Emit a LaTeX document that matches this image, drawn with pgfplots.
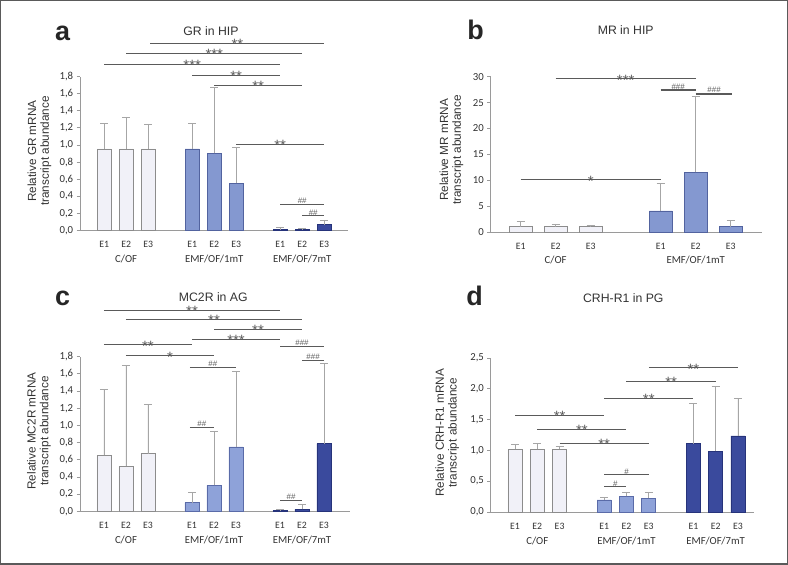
\documentclass[border=0pt]{standalone}
\usepackage{pgfplots}
\pgfplotsset{compat=1.18}
\usepackage{fontspec}
\setmainfont{Liberation Sans}
\newfontfamily\carlito{Carlito}
\definecolor{cof}{HTML}{F1F1F8}
\definecolor{cofedge}{HTML}{8C8C8C}
\definecolor{emfa}{HTML}{8498D0}
\definecolor{emfaedge}{HTML}{52639F}
\definecolor{emfc}{HTML}{8EA2D9}
\definecolor{emfcedge}{HTML}{5A6BA8}
\definecolor{emfb}{HTML}{3A4A9D}
\definecolor{emfbedge}{HTML}{26337A}
\definecolor{errc}{HTML}{A6A6A6}
\definecolor{axisc}{HTML}{9A9A9A}
\definecolor{sigc}{HTML}{5A5A5A}
\definecolor{txtc}{HTML}{333333}
\definecolor{framec}{HTML}{5A5A5A}

\newcommand\sigS[4]{\draw[sigl] (axis cs:#1,#3) -- (axis cs:#2,#3) node[midway,starlab]{#4};}
\newcommand\sigH[4]{\draw[sigl] (axis cs:#1,#3) -- (axis cs:#2,#3) node[midway,hashlab]{#4};}
\newcommand\sigHT[4]{\draw[sigl,line width=1.5bp] (axis cs:#1,#3) -- (axis cs:#2,#3) node[midway,hashlab]{#4};}

\tikzset{
  sigl/.style={draw=sigc, line width=1bp},
  starlab/.style={anchor=base, yshift=-6.3bp, inner sep=0pt, text=sigc, font=\fontsize{15}{15}\selectfont},
  hashlab/.style={anchor=base, yshift=0.9bp, inner sep=0pt, text=sigc, font=\fontsize{8}{8}\selectfont},
}

\pgfplotsset{
  panel/.style={
    scale only axis, anchor=south west, clip=false,
    axis x line=bottom, axis y line=left,
    axis line style={axisc, line width=0.8bp, -},
    xtick={0,1,2,4,5,6,8,9,10},
    xticklabels={E1,E2,E3,E1,E2,E3,E1,E2,E3},
    x tick style={draw=none},
    xticklabel style={font=\carlito\fontsize{9.8}{10}\selectfont, text=txtc, anchor=center, yshift=-11bp},
    y tick style={axisc, line width=0.8bp},
    tick align=outside, major tick length=3.3bp,
    yticklabel style={font=\carlito\fontsize{10.8}{11}\selectfont, text=txtc,
      /pgf/number format/.cd, fixed, fixed zerofill, precision=1, use comma},
    /pgf/number format/assume math mode=true,
    ymin=0,
    ylabel style={align=center, font=\fontsize{11.8}{12.8}\selectfont, text=txtc, anchor=center},
  },
  errstyle/.style={error bars/.cd, y dir=plus, y explicit,
    error bar style={errc, line width=0.9bp},
    error mark options={errc, line width=0.9bp, mark size=4bp, rotate=90}},
  cofbar/.style={ybar, bar width=#1, fill=cof, draw=cofedge, line width=0.7bp, errstyle},
  emfabar/.style={ybar, bar width=#1, fill=emfa, draw=emfaedge, line width=0.7bp, errstyle},
  emfcbar/.style={ybar, bar width=#1, fill=emfc, draw=emfcedge, line width=0.7bp, errstyle},
  emfbbar/.style={ybar, bar width=#1, fill=emfb, draw=emfbedge, line width=0.7bp, errstyle},
}

\newcommand\grp[2]{\node[font=\carlito\fontsize{10.8}{11}\selectfont, text=txtc, anchor=center] at ([yshift=-28.5bp]axis cs:#1,0) {#2};}

\begin{document}
\begin{tikzpicture}[x=1bp,y=1bp]
\useasboundingbox (0,0) rectangle (788,565);
\draw[framec, line width=1.5bp] (0.75,0.75) rectangle (787.25,564.25);

% panel letters and titles
\node[anchor=base, font=\fontsize{27}{27}\selectfont\bfseries, text=black!85] at (62.5,524.3) {a};
\node[anchor=base, font=\fontsize{27}{27}\selectfont\bfseries, text=black!85] at (475.7,525) {b};
\node[anchor=base, font=\fontsize{27}{27}\selectfont\bfseries, text=black!85] at (62.5,259) {c};
\node[anchor=base, font=\fontsize{27}{27}\selectfont\bfseries, text=black!85] at (474.5,259) {d};
\node[anchor=base, font=\fontsize{12.3}{13}\selectfont, text=txtc] at (211,529) {GR in HIP};
\node[anchor=base, font=\fontsize{12.3}{13}\selectfont, text=txtc] at (625.7,530.3) {MR in HIP};
\node[anchor=base, font=\fontsize{12.3}{13}\selectfont, text=txtc] at (213.3,263) {MC2R in AG};
\node[anchor=base, font=\fontsize{12.3}{13}\selectfont, text=txtc] at (623.3,262.3) {CRH-R1 in PG};

% ---------------- panel a ----------------
\begin{axis}[panel, at={(80bp,334.7bp)}, width=268bp, height=153.6bp,
  xmin=-1.1, xmax=11.08, ymax=1.8,
  ytick={0,0.2,0.4,0.6,0.8,1,1.2,1.4,1.6,1.8},
  ylabel={Relative GR mRNA\\transcript abundance},
  ylabel style={at={(axis description cs:-0.151,0.516)}}]
\addplot[cofbar=0.64] coordinates {(0,0.953) +- (0,0.300) (1,0.953) +- (0,0.375) (2,0.953) +- (0,0.293)};
\addplot[emfabar=0.64] coordinates {(4,0.953) +- (0,0.300) (5,0.902) +- (0,0.767) (6,0.554) +- (0,0.414)};
\addplot[emfbbar=0.64] coordinates {(8,0.008) +- (0,0.031) (9,0.012) +- (0,0.008) (10,0.066) +- (0,0.055)};
\sigS{2.1}{10}{2.187}{**}
\sigS{1}{9}{2.073}{***}
\sigS{0}{8}{1.941}{***}
\sigS{4}{8}{1.816}{**}
\sigS{5}{9}{1.702}{**}
\sigS{6}{10}{1.007}{**}
\sigH{8}{10}{0.301}{\#\#}
\sigH{9}{10}{0.168}{\#\#}
\grp{1}{C/OF}
\grp{5}{EMF/OF/1mT}
\grp{9}{EMF/OF/7mT}
\end{axis}

% ---------------- panel b ----------------
\begin{axis}[panel, at={(490.7bp,333bp)}, width=271bp, height=155.3bp,
  xmin=-0.857, xmax=6.886, ymax=30,
  xtick={0,1,2,4,5,6}, xticklabels={E1,E2,E3,E1,E2,E3},
  ytick={0,5,10,15,20,25,30},
  yticklabel style={/pgf/number format/precision=0},
  ylabel={Relative MR mRNA\\transcript abundance},
  ylabel style={at={(axis description cs:-0.1447,0.528)}}]
\addplot[cofbar=0.65] coordinates {(0,1.0) +- (0,1.0) (1,1.0) +- (0,0.55) (2,1.0) +- (0,0.35)};
\addplot[emfabar=0.65] coordinates {(4,4.06) +- (0,5.34) (5,11.5) +- (0,14.6) (6,1.03) +- (0,1.27)};
\sigS{1}{5}{29.6}{***}
\sigHT{4}{5}{27.4}{\#\#\#}
\sigHT{5}{6.05}{26.7}{\#\#\#}
\sigS{0}{4}{10.05}{*}
\grp{1}{C/OF}
\grp{5}{EMF/OF/1mT}
\end{axis}

% ---------------- panel c ----------------
\begin{axis}[panel, at={(80bp,53.7bp)}, width=270bp, height=154.6bp,
  xmin=-1.09, xmax=11.18, ymax=1.8,
  ytick={0,0.2,0.4,0.6,0.8,1,1.2,1.4,1.6,1.8},
  ylabel={Relative MC2R mRNA\\transcript abundance},
  ylabel style={at={(axis description cs:-0.1519,0.519)}}]
\addplot[cofbar=0.64] coordinates {(0,0.652) +- (0,0.764) (1,0.524) +- (0,1.176) (2,0.671) +- (0,0.570)};
\addplot[emfcbar=0.64] coordinates {(4,0.101) +- (0,0.116) (5,0.303) +- (0,0.632) (6,0.749) +- (0,0.884)};
\addplot[emfbbar=0.64] coordinates {(8,0.008) +- (0,0.012) (9,0.023) +- (0,0.058) (10,0.787) +- (0,0.939)};
\sigS{0}{8}{2.343}{**}
\sigS{1}{9}{2.234}{**}
\sigS{5}{9}{2.122}{**}
\sigS{4}{8}{1.998}{***}
\sigS{0}{4}{1.939}{**}
\sigH{8}{10}{1.920}{\#\#\#}
\sigS{1}{5}{1.811}{*}
\sigH{9}{10}{1.761}{\#\#\#}
\sigH{3.9}{6}{1.676}{\#\#}
\sigH{3.9}{5}{0.974}{\#\#}
\sigH{8}{9}{0.128}{\#\#}
\grp{1}{C/OF}
\grp{5}{EMF/OF/1mT}
\grp{9}{EMF/OF/7mT}
\end{axis}

% ---------------- panel d ----------------
\begin{axis}[panel, at={(490.7bp,53bp)}, width=263.3bp, height=154bp,
  xmin=-1.09, xmax=10.72, ymax=2.5,
  ytick={0,0.5,1,1.5,2,2.5},
  ylabel={Relative CRH-R1 mRNA\\transcript abundance},
  ylabel style={at={(axis description cs:-0.1648,0.515)}}]
\addplot[cofbar=0.63] coordinates {(0,1.017) +- (0,0.081) (1,1.017) +- (0,0.098) (2,1.017) +- (0,0.049)};
\addplot[emfcbar=0.63] coordinates {(4,0.195) +- (0,0.049) (5,0.254) +- (0,0.071) (6,0.227) +- (0,0.098)};
\addplot[emfbbar=0.63] coordinates {(8,1.109) +- (0,0.655) (9,0.990) +- (0,1.050) (10,1.234) +- (0,0.617)};
\sigS{6}{10}{2.338}{**}
\sigS{5}{9}{2.121}{**}
\sigS{4}{8}{1.845}{**}
\sigS{0}{4}{1.569}{**}
\sigS{1}{5}{1.342}{**}
\sigS{2}{6}{1.120}{**}
\sigH{4}{6}{0.601}{\#}
\sigH{4}{5}{0.406}{\#}
\grp{1}{C/OF}
\grp{5}{EMF/OF/1mT}
\grp{9}{EMF/OF/7mT}
\end{axis}
\end{tikzpicture}
\end{document}
